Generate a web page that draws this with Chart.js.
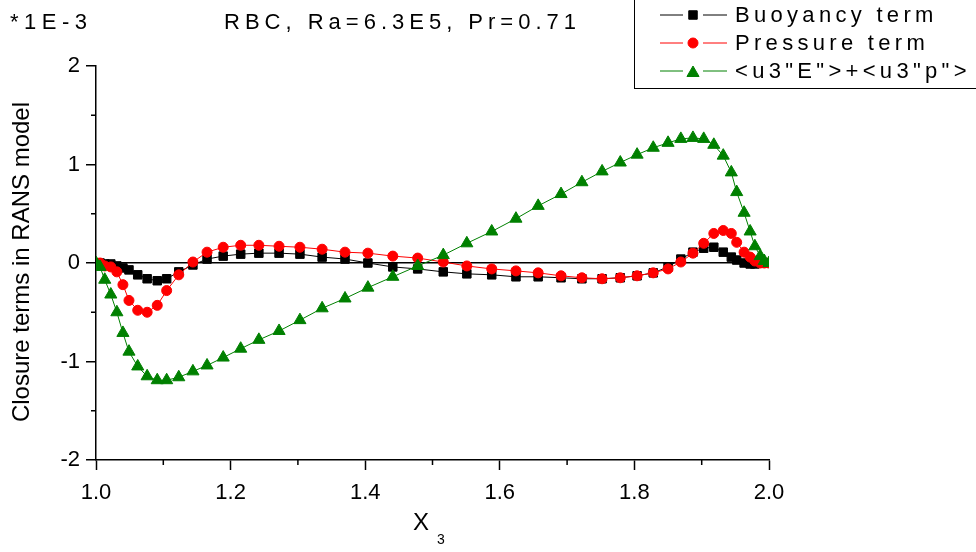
<!DOCTYPE html>
<html>
<head>
<meta charset="utf-8">
<title>RBC closure terms</title>
<script src="https://cdn.jsdelivr.net/npm/chart.js"></script>
<style>
  html, body { margin: 0; padding: 0; background: #fff; }
  #wrap { position: relative; width: 976px; height: 552px; }
</style>
</head>
<body>
<div id="wrap"><canvas id="myChart" width="976" height="552"></canvas></div>
<script>
// values (units of 1E-3)
const x3 = [1.000, 1.006, 1.013, 1.022, 1.031, 1.040, 1.049, 1.062, 1.076, 1.091,
  1.105, 1.123, 1.144, 1.165, 1.189, 1.215, 1.242, 1.272, 1.303, 1.336,
  1.370, 1.404, 1.441, 1.478, 1.516, 1.551, 1.588, 1.624, 1.657, 1.691,
  1.722, 1.752, 1.779, 1.804, 1.828, 1.850, 1.869, 1.887, 1.903, 1.918,
  1.932, 1.944, 1.952, 1.963, 1.972, 1.979, 1.987, 1.993, 2.000];

const buoyancyTerm = [0.00, 0.00, -0.01, -0.01, -0.03, -0.05, -0.07, -0.12, -0.16, -0.18,
  -0.16, -0.09, -0.02, 0.04, 0.07, 0.09, 0.10, 0.10, 0.09, 0.06,
  0.04, 0.00, -0.04, -0.06, -0.09, -0.11, -0.12, -0.14, -0.14, -0.15,
  -0.16, -0.16, -0.15, -0.13, -0.10, -0.04, 0.04, 0.11, 0.15, 0.16,
  0.11, 0.06, 0.03, 0.00, -0.01, -0.01, 0.00, 0.00, 0.00];

const pressureTerm = [0.00, 0.00, -0.03, -0.04, -0.09, -0.22, -0.38, -0.48, -0.50, -0.43,
  -0.28, -0.12, 0.01, 0.11, 0.16, 0.18, 0.18, 0.17, 0.16, 0.14,
  0.11, 0.10, 0.07, 0.05, 0.01, -0.03, -0.06, -0.08, -0.10, -0.13,
  -0.15, -0.16, -0.15, -0.13, -0.10, -0.06, 0.01, 0.10, 0.20, 0.30,
  0.33, 0.30, 0.21, 0.11, 0.06, 0.02, 0.00, 0.00, 0.00];

const transportTerm = [0.00, -0.04, -0.17, -0.32, -0.50, -0.71, -0.90, -1.05, -1.15, -1.19,
  -1.19, -1.16, -1.10, -1.04, -0.96, -0.87, -0.78, -0.69, -0.58, -0.46,
  -0.36, -0.25, -0.14, -0.03, 0.08, 0.20, 0.32, 0.45, 0.58, 0.70,
  0.82, 0.93, 1.02, 1.10, 1.17, 1.22, 1.26, 1.27, 1.26, 1.20,
  1.09, 0.92, 0.72, 0.51, 0.32, 0.17, 0.07, 0.02, 0.00];

const xTicks = [1.0, 1.2, 1.4, 1.6, 1.8, 2.0];
const xMinor = [1.1, 1.3, 1.5, 1.7, 1.9];
const yTicks = [-2, -1, 0, 1, 2];
const yMinor = [-1.5, -0.5, 0.5, 1.5];

const seriesNames = ["Buoyancy term", "Pressure term", '<u3"E">+<u3"p">'];
const titleText = "RBC, Ra=6.3E5, Pr=0.71";
const factorText = "*1E-3";
const yTitle = "Closure terms in RANS model";

const FONT = "'Liberation Sans', Arial, sans-serif";

const toPoints = function (ys) {
  return x3.map((x, i) => ({ x: x, y: ys[i] }));
};

const drawMarker = function (ctx, style, r, x, y) {
  if (Chart.helpers && Chart.helpers.drawPoint) {
    Chart.helpers.drawPoint(ctx, { pointStyle: style, radius: r, rotation: 0, borderWidth: 1 }, x, y);
  }
};

// title, legend box, axis titles, minor ticks
const decorPlugin = {
  id: 'decor',
  afterDraw(chart) {
    const ctx = chart.ctx;
    const xs = chart.scales.x, ys = chart.scales.y;
    ctx.save();

    ctx.strokeStyle = '#000';
    ctx.lineWidth = 1.5;
    ctx.beginPath();
    for (let v of xMinor) {
      let p = xs.getPixelForValue(v);
      ctx.moveTo(p, xs.top);
      ctx.lineTo(p, xs.top + 5);
    }
    for (let v of yMinor) {
      let p = ys.getPixelForValue(v);
      ctx.moveTo(ys.right, p);
      ctx.lineTo(ys.right - 5, p);
    }
    ctx.stroke();

    ctx.fillStyle = '#000';
    ctx.textBaseline = 'middle';
    ctx.font = `22px ${FONT}`;
    ctx.letterSpacing = '5px';
    ctx.textAlign = 'left';
    ctx.fillText(titleText, 224, 23);
    ctx.letterSpacing = '5.5px';
    ctx.fillText(factorText, 10, 23);

    // y title
    ctx.letterSpacing = '0px';
    ctx.save();
    ctx.translate(22, 262);
    ctx.rotate(-Math.PI / 2);
    ctx.textAlign = 'center';
    ctx.font = `24px ${FONT}`;
    ctx.fillText(yTitle, 0, 0);
    ctx.restore();

    // x title with subscript
    ctx.font = `24px ${FONT}`;
    ctx.textAlign = 'left';
    ctx.fillText("X", 413, 523);
    ctx.font = `14px ${FONT}`;
    ctx.fillText("3", 437, 540);

    // legend box
    ctx.lineWidth = 1;
    ctx.strokeStyle = '#000';
    ctx.strokeRect(634.5, -1, 400, 89.5);
    const rows = [15, 43, 71];
    chart.data.datasets.forEach((ds, i) => {
      let y = rows[i];
      ctx.strokeStyle = ds.borderColor;
      ctx.lineWidth = 1;
      ctx.beginPath();
      ctx.moveTo(660, y); ctx.lineTo(683, y);
      ctx.moveTo(703, y); ctx.lineTo(727, y);
      ctx.stroke();
      ctx.fillStyle = ds.pointBackgroundColor;
      ctx.strokeStyle = ds.pointBorderColor;
      drawMarker(ctx, ds.pointStyle, ds.pointRadius, 693, y + (ds.pointStyle === 'triangle' ? 2 : 0));
      ctx.fillStyle = '#000';
      ctx.font = `22px ${FONT}`;
      ctx.letterSpacing = '4.3px';
      ctx.textAlign = 'left';
      ctx.fillText(seriesNames[i], 735, y + 1);
    });
    ctx.restore();
  }
};

const makeChart = function () {
  const ctx = document.getElementById('myChart').getContext('2d');
  const myChart = new Chart(ctx, {
    type: 'scatter',
    data: {
      datasets: [{
        label: seriesNames[0],
        data: toPoints(buoyancyTerm),
        showLine: true,
        borderColor: '#000000',
        borderWidth: 1,
        pointStyle: 'rect',
        pointRadius: 6,
        pointBackgroundColor: '#000000',
        pointBorderColor: '#000000',
        pointBorderWidth: 1,
        order: 3
      }, {
        label: seriesNames[1],
        data: toPoints(pressureTerm),
        showLine: true,
        borderColor: '#ff0000',
        borderWidth: 1,
        pointStyle: 'circle',
        pointRadius: 5,
        pointBackgroundColor: '#ff0000',
        pointBorderColor: '#ff0000',
        pointBorderWidth: 1,
        order: 2
      }, {
        label: seriesNames[2],
        data: toPoints(transportTerm),
        showLine: true,
        borderColor: '#008000',
        borderWidth: 1,
        pointStyle: 'triangle',
        pointRadius: 7,
        pointBackgroundColor: '#008000',
        pointBorderColor: '#008000',
        pointBorderWidth: 1,
        order: 1
      }]
    },
    options: {
      responsive: false,
      animation: false,
      devicePixelRatio: 1,
      layout: { padding: { top: 66, right: 207, left: 0, bottom: 0 } },
      plugins: { legend: { display: false }, tooltip: { enabled: false }, title: { display: false } },
      scales: {
        x: {
          type: 'linear',
          min: 1, max: 2,
          afterFit: s => { s.height = 92; },
          afterBuildTicks: axis => { axis.ticks = xTicks.map(v => ({ value: v })); },
          border: { display: true, color: '#000', width: 1.5 },
          grid: { drawOnChartArea: false, tickLength: 10, tickColor: '#000', tickWidth: 1.5 },
          ticks: {
            color: '#000', padding: 10, maxRotation: 0,
            font: { family: FONT, size: 22 },
            callback: v => Number(v).toFixed(1)
          }
        },
        y: {
          type: 'linear',
          min: -2, max: 2,
          afterFit: s => { s.width = 96; },
          afterBuildTicks: axis => { axis.ticks = yTicks.map(v => ({ value: v })); },
          border: { display: true, color: '#000', width: 1.5 },
          grid: {
            drawOnChartArea: true,
            color: c => (c.tick && c.tick.value === 0) ? '#000' : 'rgba(0,0,0,0)',
            lineWidth: 1.5,
            tickLength: 10, tickColor: '#000', tickWidth: 1.5
          },
          ticks: {
            color: '#000', padding: 6,
            font: { family: FONT, size: 22 },
            callback: v => String(v)
          }
        }
      }
    },
    plugins: [decorPlugin]
  });
};

document.addEventListener("DOMContentLoaded", function () {
  makeChart();
});
</script>
</body>
</html>
